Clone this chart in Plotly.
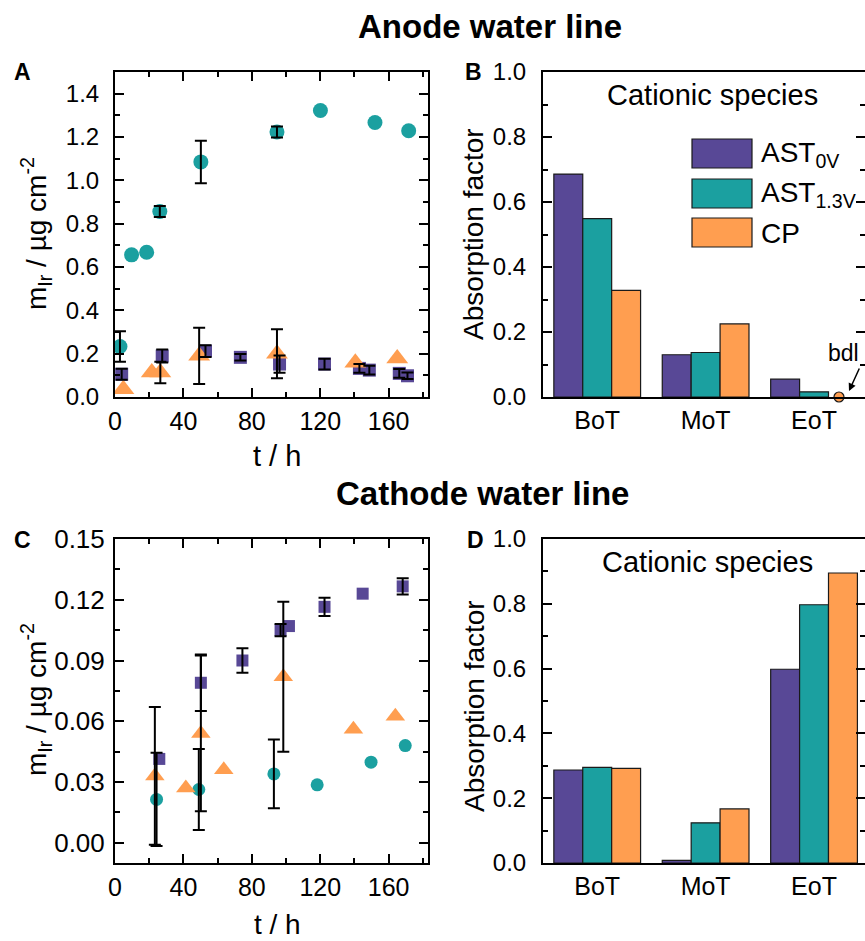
import plotly.graph_objects as go

# ---------------- data ----------------
# Panel A: anode water line, m_Ir (ug cm^-2) vs t (h)
a_ast0_t = [3.9, 27.6, 52.9, 73.3, 96.2, 122.5, 142.9, 148.7, 166.2, 171.0]
a_ast0_m = [0.105, 0.189, 0.212, 0.183, 0.152, 0.152, 0.132, 0.124, 0.109, 0.098]
a_ast0_e = [0.025, 0.03, 0.027, 0.015, 0.04, 0.025, 0.02, 0.02, 0.02, 0.015]

a_ast13_t = [2.9, 9.7, 18.5, 26.2, 50.2, 94.7, 120.1, 152.0, 171.7]
a_ast13_m = [0.233, 0.656, 0.668, 0.856, 1.085, 1.223, 1.322, 1.267, 1.229]
a_ast13_e = [0.07, None, None, 0.025, 0.098, 0.025, None, None, None]

a_cp_t = [4.9, 21.5, 26.5, 49.2, 94.7, 140.5, 165.0]
a_cp_m = [0.036, 0.113, 0.113, 0.19, 0.2, 0.158, 0.178]
a_cp_e = [None, None, 0.05, 0.13, 0.113, None, None]

# Panel C: cathode water line
c_ast0_t = [25.9, 50.2, 74.5, 96.8, 101.7, 122.5, 144.8, 168.2]
c_ast0_m = [0.0414, 0.079, 0.090, 0.105, 0.107, 0.1165, 0.123, 0.1266]
c_ast0_e = [None, 0.014, 0.006, 0.003, None, 0.0045, None, 0.004]

c_ast13_t = [24.3, 49.0, 92.9, 118.2, 149.7, 169.7]
c_ast13_m = [0.0214, 0.0263, 0.034, 0.0286, 0.0398, 0.048]
c_ast13_e = [0.023, 0.020, 0.017, None, None, None]

c_cp_t = [23.3, 41.4, 50.2, 63.6, 98.4, 139.4, 163.9]
c_cp_m = [0.033, 0.027, 0.054, 0.036, 0.082, 0.056, 0.0625]
c_cp_e = [0.034, None, 0.0385, None, 0.037, None, None]

# Panels B and D: absorption factor, cationic species
stages = ["BoT", "MoT", "EoT"]
b_ast0 = [0.686, 0.130, 0.055]
b_ast13 = [0.549, 0.137, 0.016]
b_cp = [0.328, 0.225, None]      # EoT below detection limit
bdl_pos = 2.23                   # position of the bdl marker on the EoT group
d_ast0 = [0.287, 0.008, 0.598]
d_ast13 = [0.295, 0.124, 0.797]
d_cp = [0.292, 0.167, 0.895]

series_names = ["AST<sub>0V</sub>", "AST<sub>1.3V</sub>", "CP"]
PURPLE = "#584896"
TEAL = "#1ba0a0"
ORANGE = "#ff9e50"
colors = [PURPLE, TEAL, ORANGE]

# ---------------- figure ----------------
W, H = 865, 941
FONT = "Liberation Sans, Arial, sans-serif"


def px_x(p):
    return p / W


def px_y(p):
    return 1 - p / H


fig = go.Figure()
fig.update_layout(template=go.layout.Template())


def scatter_set(ts, ms, color, symbol, size, xa, ya):
    fig.add_trace(go.Scatter(x=ts, y=ms, mode="markers", xaxis=xa, yaxis=ya,
                             marker=dict(color=color, symbol=symbol, size=size, line=dict(width=0)),
                             showlegend=False, cliponaxis=True))


def err_set(ts, ms, es, xa, ya):
    xs = [t for t, e in zip(ts, es) if e is not None]
    ys = [m for m, e in zip(ms, es) if e is not None]
    ee = [e for e in es if e is not None]
    fig.add_trace(go.Scatter(x=xs, y=ys, mode="markers", xaxis=xa, yaxis=ya,
                             marker=dict(color="rgba(0,0,0,0)", size=2),
                             error_y=dict(type="data", array=ee, visible=True, color="black",
                                          thickness=2, width=6),
                             showlegend=False, cliponaxis=False))


# Panel A
scatter_set(a_ast0_t, a_ast0_m, PURPLE, "square", 13, "x", "y")
scatter_set(a_ast13_t, a_ast13_m, TEAL, "circle", 15, "x", "y")
scatter_set(a_cp_t, a_cp_m, ORANGE, "triangle-up", 19, "x", "y")
err_set(a_ast0_t, a_ast0_m, a_ast0_e, "x", "y")
err_set(a_ast13_t, a_ast13_m, a_ast13_e, "x", "y")
err_set(a_cp_t, a_cp_m, a_cp_e, "x", "y")

# Panel C
scatter_set(c_ast0_t, c_ast0_m, PURPLE, "square", 12, "x3", "y3")
scatter_set(c_ast13_t, c_ast13_m, TEAL, "circle", 13, "x3", "y3")
scatter_set(c_cp_t, c_cp_m, ORANGE, "triangle-up", 17, "x3", "y3")
err_set(c_ast0_t, c_ast0_m, c_ast0_e, "x3", "y3")
err_set(c_ast13_t, c_ast13_m, c_ast13_e, "x3", "y3")
err_set(c_cp_t, c_cp_m, c_cp_e, "x3", "y3")

# Panels B and D bars
for vals_b, name, col in zip([b_ast0, b_ast13, b_cp], series_names, colors):
    fig.add_trace(go.Bar(x=[0, 1, 2], y=vals_b, name=name, xaxis="x2", yaxis="y2",
                         marker=dict(color=col, line=dict(color="#1a1a1a", width=1.2)),
                         showlegend=False))
for vals_d, name, col in zip([d_ast0, d_ast13, d_cp], series_names, colors):
    fig.add_trace(go.Bar(x=[0, 1, 2], y=vals_d, name=name, xaxis="x4", yaxis="y4",
                         marker=dict(color=col, line=dict(color="#1a1a1a", width=1.2)),
                         showlegend=False))

# bdl marker
fig.add_trace(go.Scatter(x=[bdl_pos], y=[0], mode="markers", xaxis="x2", yaxis="y2",
                         marker=dict(color=ORANGE, size=10, line=dict(color="#1a1a1a", width=1.2)),
                         showlegend=False, cliponaxis=False))

ytickfont = dict(family=FONT, size=24, color="black")
xtickfont = dict(family=FONT, size=25, color="black")
minor_ticks = dict(ticks="inside", ticklen=5, tickwidth=2, tickcolor="black", showgrid=False)

common_ax = dict(showline=True, linewidth=2, linecolor="black", mirror="ticks",
                 ticks="inside", ticklen=9, tickwidth=2, tickcolor="black",
                 showgrid=False, zeroline=False, automargin=False)

A_X = [px_x(115), px_x(428)]
B_X = [px_x(543), 1.0]
TOP_Y = [px_y(397), px_y(72)]
BOT_Y = [px_y(863), px_y(539)]

time_ax = dict(common_ax, range=[0, 183], tick0=0, dtick=40, ticklabelstandoff=1, tickfont=xtickfont,
               minor=dict(minor_ticks, dtick=20))
bar_xax = dict(showline=True, linewidth=2, linecolor="black", mirror=True, ticks="",
               showgrid=False, zeroline=False, tickfont=xtickfont, range=[-0.5, 2.47],
               tickvals=[0, 1, 2], ticktext=stages, automargin=False, ticklabelstandoff=0)
bar_yax = dict(common_ax, range=[0, 1.0], tick0=0, dtick=0.2, tickformat=".1f", ticklabelstandoff=10,
               tickfont=ytickfont, minor=dict(minor_ticks, dtick=0.1))

fig.update_layout(
    width=W, height=H,
    margin=dict(l=0, r=0, t=0, b=0, pad=0, autoexpand=False),
    paper_bgcolor="white", plot_bgcolor="white",
    barmode="group", bargap=0.2, bargroupgap=0,
    showlegend=False,
    font=dict(family=FONT, color="black"),
    xaxis=dict(time_ax, domain=A_X, anchor="y"),
    yaxis=dict(common_ax, domain=TOP_Y, anchor="x", range=[0, 1.5], tick0=0, dtick=0.2,
               tickformat=".1f", ticklabelstandoff=9, tickfont=ytickfont,
               minor=dict(minor_ticks, dtick=0.1)),
    xaxis2=dict(bar_xax, domain=B_X, anchor="y2"),
    yaxis2=dict(bar_yax, domain=TOP_Y, anchor="x2"),
    xaxis3=dict(time_ax, domain=A_X, anchor="y3"),
    yaxis3=dict(common_ax, domain=BOT_Y, anchor="x3", range=[-0.01, 0.15], tick0=0, dtick=0.03,
                tickformat=".2f", ticklabelstandoff=3, tickfont=dict(ytickfont, size=26),
                minor=dict(minor_ticks, dtick=0.015)),
    xaxis4=dict(bar_xax, domain=B_X, anchor="y4"),
    yaxis4=dict(bar_yax, domain=BOT_Y, anchor="x4"),
)

ann = []


def add_text(text, x, y, size, angle=0, xanchor="center", yanchor="middle"):
    ann.append(dict(text=text, x=px_x(x), y=px_y(y), xref="paper", yref="paper",
                    showarrow=False, textangle=angle, xanchor=xanchor, yanchor=yanchor,
                    font=dict(family=FONT, size=size, color="black")))


# titles
add_text("<b>Anode water line</b>", 490, 27, 33)
add_text("<b>Cathode water line</b>", 482, 493, 33)
# panel letters
add_text("<b>A</b>", 22, 72, 23)
add_text("<b>B</b>", 474, 72, 23)
add_text("<b>C</b>", 22, 540, 23)
add_text("<b>D</b>", 475, 540, 23)
# axis titles
ytitle = "m<sub>Ir</sub> / µg cm<sup>-2</sup>"
add_text(ytitle, 36, 234, 28, angle=-90)
add_text(ytitle, 36, 700, 28, angle=-90)
add_text("Absorption factor", 474, 234, 28, angle=-90)
add_text("Absorption factor", 474, 706, 28, angle=-90)
add_text("t / h", 277, 456, 29)
add_text("t / h", 277, 924, 28)
# panel inner labels
add_text("Cationic species", 712, 95, 29)
add_text("Cationic species", 707, 562, 29)
add_text("bdl", 843, 353, 23)

# custom legend in panel B
legend_rows = [(139, 168), (179, 208), (218, 247)]
shapes = []
for (y0, y1), name, col in zip(legend_rows, series_names, colors):
    shapes.append(dict(type="rect", xref="paper", yref="paper",
                       x0=px_x(692), x1=px_x(752), y0=px_y(y1), y1=px_y(y0),
                       fillcolor=col, line=dict(color="#1a1a1a", width=1.2)))
    add_text(name, 759, (y0 + y1) / 2 + 1, 28, xanchor="left")

# bdl arrow
ann.append(dict(text="", x=px_x(849), y=px_y(391), xref="paper", yref="paper",
                ax=11, ay=-24, showarrow=True, arrowhead=2, arrowsize=1, arrowwidth=1.5,
                arrowcolor="black"))

fig.update_layout(annotations=ann, shapes=shapes)

fig.write_html("out.html")
